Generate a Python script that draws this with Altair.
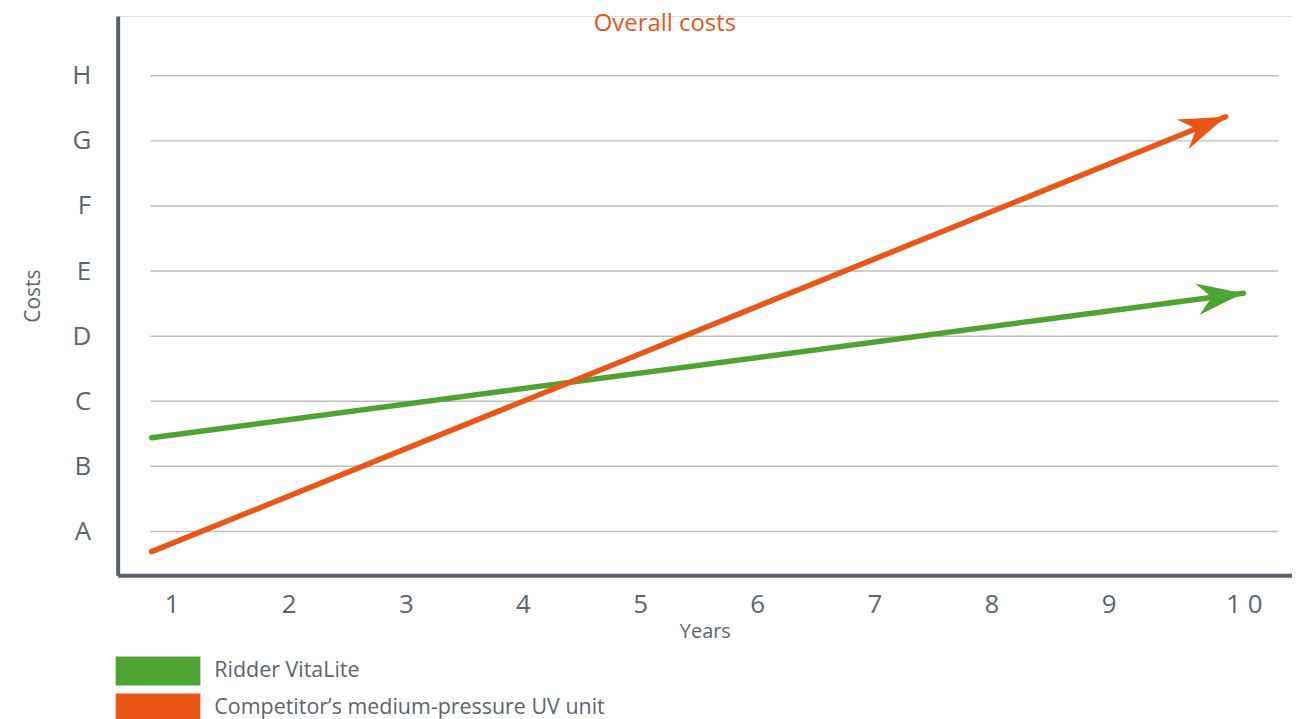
import math
import altair as alt
import pandas as pd

# ---- data ----
years = [1, 2, 3, 4, 5, 6, 7, 8, 9, 10]
year_labels = ["1", "2", "3", "4", "5", "6", "7", "8", "9", "1 0"]
cost_levels = [1, 2, 3, 4, 5, 6, 7, 8]
cost_labels = ["A", "B", "C", "D", "E", "F", "G", "H"]
series = ["Ridder VitaLite", "Competitor\u2019s medium-pressure UV unit"]
colors = ["#4fa332", "#ea5518"]
vitalite_x = [0.83, 10.15]
vitalite_y = [2.44, 4.66]
competitor_x = [0.83, 10.0]
competitor_y = [0.69, 7.37]
grid_x = [0.82, 10.45]

# ---- layout ----
W, H = 1178, 561
XDOM = [0.54, 10.566]
YDOM = [0.326, 8.917]
sx = W / (XDOM[1] - XDOM[0])
sy = H / (YDOM[1] - YDOM[0])

def ang(xs, ys):
    dx = (xs[1] - xs[0]) * sx
    dy = (ys[1] - ys[0]) * sy
    return (360 - math.degrees(math.atan2(dy, dx))) % 360

lines = pd.DataFrame({
    "series": [series[0]] * 2 + [series[1]] * 2,
    "year": vitalite_x + competitor_x,
    "cost": vitalite_y + competitor_y,
    "order": [0, 1, 0, 1],
})
arrows = pd.DataFrame({
    "series": series,
    "year": [vitalite_x[1], competitor_x[1]],
    "cost": [vitalite_y[1], competitor_y[1]],
    "angle": [ang(vitalite_x, vitalite_y), ang(competitor_x, competitor_y)],
})
grid = pd.DataFrame({"x": [grid_x[0]] * 8, "x2": [grid_x[1]] * 8, "y": cost_levels})

FONT = "Open Sans"
TXT = "#5b6670"
AX = "#56626d"

label_expr_y = "[" + ",".join(f"'{c}'" for c in cost_labels) + "][datum.value - 1]"
label_expr_x = "[" + ",".join(f"'{c}'" for c in year_labels) + "][datum.value - 1]"

xscale = alt.Scale(domain=XDOM, nice=False, zero=False)
yscale = alt.Scale(domain=YDOM, nice=False, zero=False)
cscale = alt.Scale(domain=series, range=colors)

# legend swatch: 85 x 29 rectangle (symbol radius 14.5)
legend = alt.Legend(title=None, orient="none", legendX=26, legendY=642.5,
                    direction="vertical", padding=0,
                    symbolType="M-2.93,-1L2.93,-1L2.93,1L-2.93,1Z",
                    symbolSize=841, symbolStrokeWidth=0, symbolOpacity=1,
                    labelFont=FONT, labelFontSize=21.5, labelColor=TXT,
                    labelOffset=42, rowPadding=8, labelLimit=600)

grid_layer = alt.Chart(grid).mark_rule(color="#bdbdbd", strokeWidth=1.5).encode(
    x=alt.X("x:Q", scale=xscale,
            axis=alt.Axis(values=years, labelExpr=label_expr_x, title="Years",
                          grid=False, ticks=False, domainColor=AX, domainWidth=4,
                          labelFont=FONT, labelFontSize=26, labelColor=TXT, labelPadding=16,
                          labelAlign=alt.expr("datum.value == 10 ? 'left' : 'center'"),
                          labelFlush=False,
                          titleFont=FONT, titleFontSize=20, titleFontWeight="normal",
                          titleColor=TXT, titlePadding=4)),
    x2="x2:Q",
    y=alt.Y("y:Q", scale=yscale,
            axis=alt.Axis(values=cost_levels, labelExpr=label_expr_y, title="Costs",
                          grid=False, ticks=False, domainColor=AX, domainWidth=4,
                          labelFont=FONT, labelFontSize=26, labelColor=TXT, labelPadding=27,
                          labelFlush=False,
                          titleFont=FONT, titleFontSize=21, titleFontWeight="normal",
                          titleColor=TXT, titlePadding=28)),
)

line_layer = alt.Chart(lines).mark_line(strokeWidth=5.5, strokeCap="round").encode(
    x=alt.X("year:Q", scale=xscale),
    y=alt.Y("cost:Q", scale=yscale),
    stroke=alt.Stroke("series:N", scale=cscale, sort=series, legend=legend),
    order="order:Q",
)

ARROW = "M0,0L-1.9,-0.65L-1.3,0L-1.9,0.65Z"
arrow_layer = alt.Chart(arrows).mark_point(
    shape=ARROW, size=2401, filled=True, opacity=1, strokeWidth=0
).encode(
    x=alt.X("year:Q", scale=xscale),
    y=alt.Y("cost:Q", scale=yscale),
    angle=alt.Angle("angle:Q", scale=None),
    fill=alt.Fill("series:N", scale=cscale, sort=series, legend=legend),
)

chart = alt.layer(grid_layer, line_layer, arrow_layer).properties(
    width=W, height=H,
    title=alt.TitleParams("Overall costs", color="#ea5518", font=FONT, fontSize=24,
                          fontWeight="normal", anchor="middle", frame="group",
                          dx=-40, dy=32, offset=0, baseline="middle"),
    autosize=alt.AutoSizeParams(type="none"),
    padding={"left": 110, "top": 7, "right": 0, "bottom": 143},
).configure_view(stroke=None).configure(background="white")

chart.save("out.html", embed_options={"renderer": "svg", "actions": False})
